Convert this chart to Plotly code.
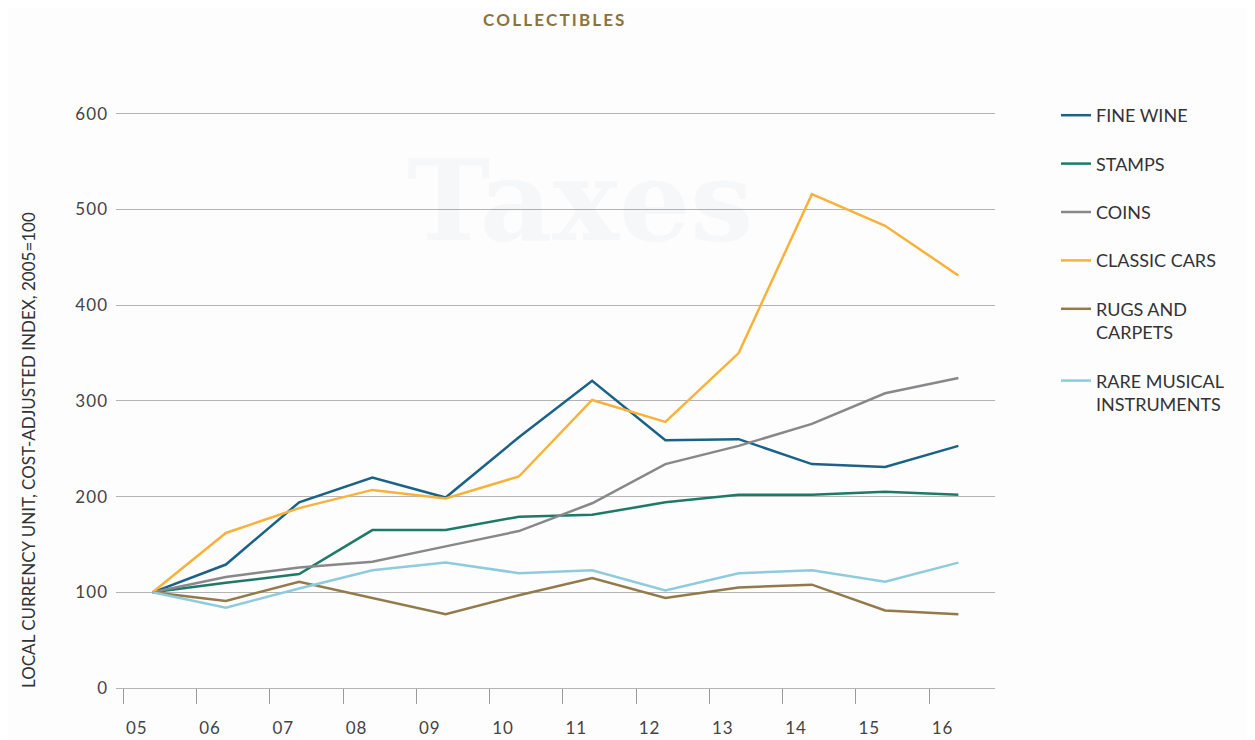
import plotly.graph_objects as go

# index values, 2005 = 100
years = [2005, 2006, 2007, 2008, 2009, 2010, 2011, 2012, 2013, 2014, 2015, 2016]
year_labels = ["05", "06", "07", "08", "09", "10", "11", "12", "13", "14", "15", "16"]
y_ticks = [0, 100, 200, 300, 400, 500, 600]

fine_wine = [100, 129, 194, 220, 199, 262, 321, 259, 260, 234, 231, 253]
stamps = [100, 110, 119, 165, 165, 179, 181, 194, 202, 202, 205, 202]
coins = [100, 116, 126, 132, 148, 164, 193, 234, 253, 276, 308, 324]
classic_cars = [100, 162, 188, 207, 198, 221, 301, 278, 350, 516, 483, 431]
rugs_carpets = [100, 91, 111, 94, 77, 97, 115, 94, 105, 108, 81, 77]
rare_instruments = [100, 84, 104, 123, 131, 120, 123, 102, 120, 123, 111, 131]

series = [
    ("FINE WINE", fine_wine, "#1b6287"),
    ("STAMPS", stamps, "#1d7a68"),
    ("COINS", coins, "#88888b"),
    ("CLASSIC CARS", classic_cars, "#f8b23c"),
    ("RUGS AND<br>CARPETS", rugs_carpets, "#927a4b"),
    ("RARE MUSICAL<br>INSTRUMENTS", rare_instruments, "#8ecbdd"),
]

FONT = "Lato, 'Open Sans', sans-serif"
HAIR = "\u200a"

# plot area in page pixels: x 116..995, y 109..688 (y range 0..605)
PX0, PW = 116, 879
PY0, PH = 688, 579


def px(x):
    return (x - PX0) / PW


def py(y):
    return (PY0 - y) / PH


def spaced(s, sep=HAIR):
    return sep.join(s)


fig = go.Figure()
for i, (name, vals, color) in enumerate(series):
    fig.add_trace(go.Scatter(
        x=years, y=vals, name=name, mode="lines",
        line=dict(color=color, width=2.5),
        legendgroup=str(i),
    ))

# faint watermark word behind the plot
fig.add_annotation(text="<b>Taxes</b>", xref="paper", yref="paper",
                   x=px(580), y=py(200), xanchor="center", yanchor="middle",
                   showarrow=False,
                   font=dict(family="'DejaVu Serif', serif", size=112,
                             color="rgba(40,50,70,0.03)"))

fig.add_annotation(text="<b>" + spaced("COLLECTIBLES", "\u2009") + "</b>",
                   xref="paper", yref="paper", x=px(553), y=py(8),
                   xanchor="center", yanchor="top", showarrow=False,
                   borderpad=0,
                   font=dict(family=FONT, size=17, color="#8a7340"))

fig.add_annotation(text="LOCAL CURRENCY UNIT, COST-ADJUSTED INDEX, 2005=100",
                   xref="paper", yref="paper", x=px(28), y=py(450),
                   xanchor="center", yanchor="middle",
                   textangle=-90, showarrow=False,
                   font=dict(family=FONT, size=17, color="#333333"))

fig.update_xaxes(
    range=[2004.5, 2016.5],
    tickvals=[y - 0.4 for y in years], ticktext=[spaced(t) for t in year_labels],
    ticks="outside", ticklen=15, tickcolor="#9a9a9a", tickwidth=1,
    ticklabelshift=13, ticklabelstandoff=10,
    showgrid=False, zeroline=False, showline=True, linecolor="#b4b4b4",
    linewidth=1,
    tickfont=dict(family=FONT, size=17, color="#444444"),
)
fig.update_yaxes(
    range=[0, 605], tickvals=y_ticks, ticktext=[spaced(str(t)) for t in y_ticks],
    showgrid=True, gridcolor="#b4b4b4", gridwidth=1,
    zeroline=False, showline=False, ticks="",
    tickfont=dict(family=FONT, size=17, color="#444444"),
    ticklabelstandoff=8,
)

# the page body adds 8px around the figure
fig.update_layout(
    width=1247, height=732,
    margin=dict(l=PX0 - 8, r=1247 - (PX0 + PW - 8), t=PY0 - PH - 8,
                b=732 - (PY0 - 8), autoexpand=False),
    paper_bgcolor="#fdfdfe", plot_bgcolor="rgba(0,0,0,0)",
    font=dict(family=FONT, color="#333333"),
    showlegend=True,
    legend=dict(
        x=px(1056), y=py(97), xanchor="left", yanchor="top",
        font=dict(family=FONT, size=18, color="#333333"),
        tracegroupgap=22, valign="top", bgcolor="rgba(0,0,0,0)",
    ),
)

fig.write_html("out.html")
